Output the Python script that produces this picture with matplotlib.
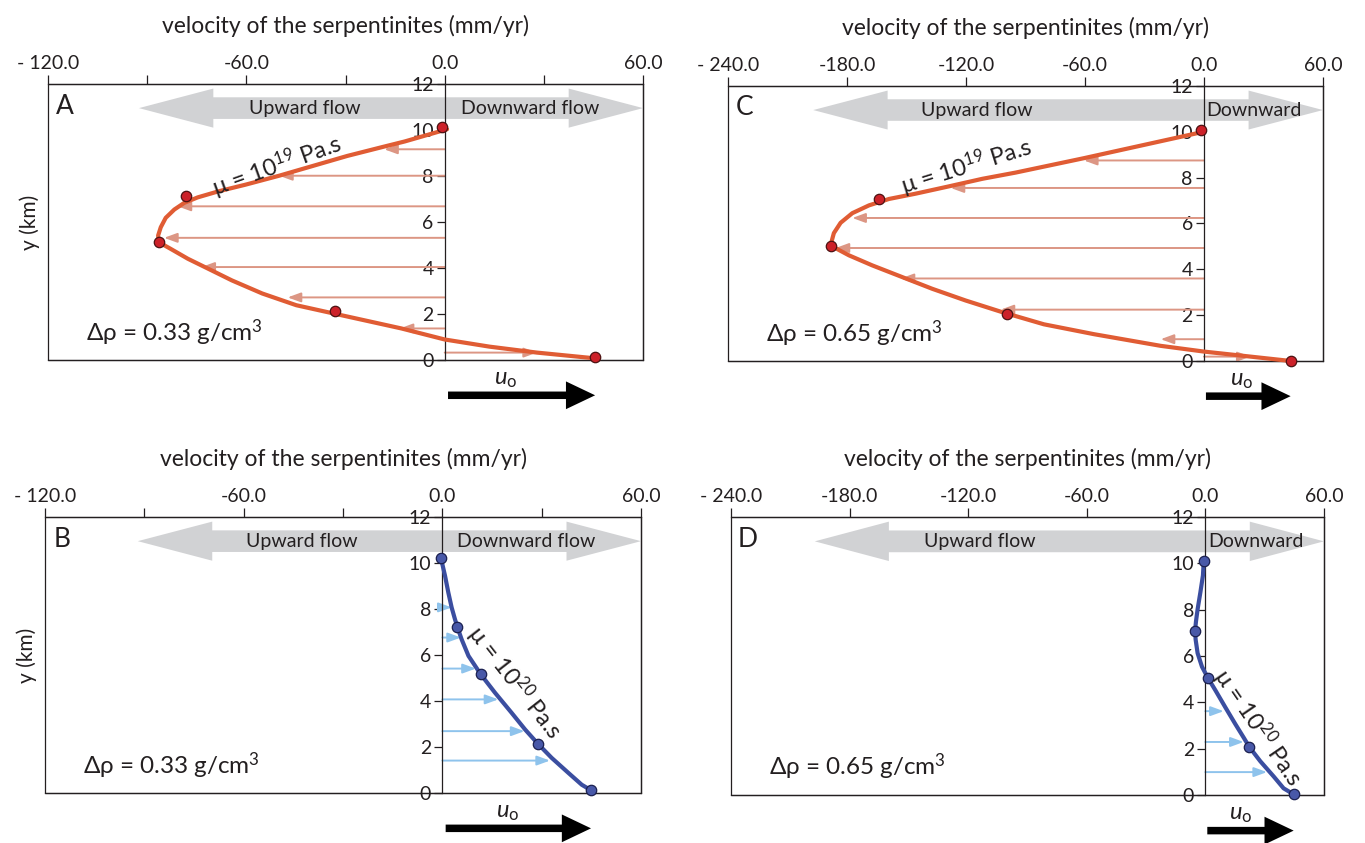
import matplotlib.pyplot as plt
from matplotlib.patches import Polygon, Rectangle

plt.rcParams['font.family'] = ['Lato', 'DejaVu Sans']
plt.rcParams['mathtext.fontset'] = 'custom'
plt.rcParams['mathtext.rm'] = 'Lato'
plt.rcParams['mathtext.it'] = 'Lato:italic'

INK = '#231f20'

# ---- panel A : drho = 0.33, mu = 1e19 ----
a_curve_y = [10.03, 9.5, 9.26, 8.87, 8.44, 8.01, 7.62, 7.33, 7.07, 6.83, 6.54, 6.18, 5.77, 5.41, 5.12,
             4.83, 4.40, 3.97, 3.46, 2.89, 2.38, 2.02, 1.37, 0.89, 0.58, 0.32, 0.07]
a_curve_x = [0.7, -12.1, -18.8, -29.5, -39.8, -50.1, -60.3, -68.5, -74.7, -78.8, -81.8, -84.4, -85.9, -86.7, -86.5,
             -82.9, -77.7, -71.6, -64.4, -55.2, -44.9, -33.6, -13.1, 0.0, 13.5, 27.9, 45.5]
a_dots_x = [-0.8, -78.3, -86.3, -33.1, 45.5]
a_dots_y = [10.13, 7.14, 5.12, 2.14, 0.13]
a_arrow_y = [9.16, 8.01, 6.68, 5.31, 4.04, 2.72, 1.37, 0.32]
a_arrow_x = [-18.3, -50.1, -80.8, -84.9, -73.6, -47.5, -13.6, 27.9]

# ---- panel B : drho = 0.33, mu = 1e20 ----
b_curve_y = [10.2, 9.45, 8.72, 8.07, 7.56, 7.19, 6.69, 5.96, 5.16, 4.36, 3.49, 2.76, 2.15, 1.53, 0.87, 0.36, 0.12]
b_curve_x = [-0.4, 0.8, 1.8, 2.8, 3.8, 4.6, 5.8, 7.9, 11.6, 15.9, 20.9, 25.0, 28.8, 33.0, 38.1, 42.1, 44.9]
b_dots_x = [-0.4, 4.5, 11.6, 28.8, 44.9]
b_dots_y = [10.2, 7.21, 5.16, 2.15, 0.12]
b_arrow_y = [8.07, 6.76, 5.41, 4.07, 2.69, 1.41]
b_arrow_x = [2.8, 5.6, 10.1, 16.9, 24.8, 32.5]

# ---- panel C : drho = 0.65, mu = 1e19 ----
c_curve_y = [9.99, 9.62, 8.85, 8.22, 7.95, 7.62, 7.30, 7.07, 6.79, 6.45, 6.03, 5.58, 5.04,
             4.61, 4.17, 3.66, 3.15, 2.64, 2.13, 1.60, 1.17, 0.66, 0.41, 0.19, 0.0]
c_curve_x = [-0.8, -20.2, -60.5, -95.0, -111.7, -128.6, -145.4, -158.8, -168.9, -177.3, -183.2, -186.6, -188.3,
             -179.0, -167.2, -152.1, -137.0, -120.2, -101.7, -80.7, -55.5, -21.8, 0.0, 23.5, 43.7]
c_dots_x = [-1.3, -163.9, -188.2, -99.1, 43.7]
c_dots_y = [10.06, 7.07, 5.03, 2.06, 0.0]
c_arrow_y = [8.75, 7.55, 6.24, 4.93, 3.60, 2.24, 0.95, 0.19]
c_arrow_x = [-60.5, -127.7, -177.3, -185.7, -152.9, -102.5, -21.8, 23.5]

# ---- panel D : drho = 0.65, mu = 1e20 ----
d_curve_y = [10.1, 9.48, 8.75, 8.02, 7.51, 7.10, 6.71, 6.12, 5.54, 5.07, 4.52, 3.79, 3.06, 2.48, 2.07, 1.46, 0.80, 0.29, 0.03]
d_curve_x = [-0.8, -1.2, -2.5, -3.9, -4.7, -5.2, -4.9, -3.9, -1.7, 1.2, 5.1, 10.1, 15.2, 19.4, 22.3, 27.8, 34.6, 39.6, 44.7]
d_dots_x = [-0.8, -5.2, 1.2, 22.3, 44.7]
d_dots_y = [10.1, 7.10, 5.07, 2.07, 0.03]
d_arrow_y = [3.62, 2.29, 0.99]
d_arrow_x = [9.3, 19.4, 31.2]

xticks_small = [-120, -90, -60, -30, 0, 30, 60]
xlabels_small = ['- 120.0', '', '-60.0', '', '0.0', '', '60.0']
xticks_big = [-240, -180, -120, -60, 0, 60]
xlabels_big = ['- 240.0', '-180.0', '-120.0', '-60.0', '0.0', '60.0']
yticks = [0, 2, 4, 6, 8, 10, 12]


def double_arrow(ax, left, right, head, yc):
    body, hw = 0.47, 0.85
    pts = [(left, yc), (left + head, yc + hw), (left + head, yc + body), (right - head, yc + body),
           (right - head, yc + hw), (right, yc), (right - head, yc - hw), (right - head, yc - body),
           (left + head, yc - body), (left + head, yc - hw)]
    ax.add_patch(Polygon(pts, closed=True, facecolor='#d1d2d4', edgecolor='none', zorder=1))


def panel(ax, letter, xlim, xt, xl, cx, cy, dx, dy, ax_, ay_, curve_c, dot_c, dot_e, arr_c,
          mu_txt, mu_xy, mu_rot, drho, arrow_left, up_x, down_x, down_txt, uo_x, ylab):
    ax.set_xlim(*xlim)
    ax.set_ylim(0, 12)
    ax.xaxis.tick_top()
    ax.set_xticks(xt)
    ax.set_xticklabels(xl)
    ax.tick_params(axis='x', direction='out', length=6.5, width=0.9, pad=2, labelsize=14,
                   colors=INK, top=True, bottom=False)
    ax.xaxis.set_label_position('top')
    ax.set_xlabel('velocity of the serpentinites (mm/yr)', fontsize=16.5, color=INK, labelpad=16)
    ax.spines['left'].set_position(('data', 0))
    for s in ax.spines.values():
        s.set_linewidth(0.9)
        s.set_color(INK)
    ax.set_yticks(yticks)
    ax.tick_params(axis='y', direction='out', length=6, width=0.9, pad=2, labelsize=14, colors=INK)
    ax.add_patch(Rectangle((0, 0), 1, 1, transform=ax.transAxes, fill=False,
                           edgecolor=INK, lw=0.9, zorder=0, clip_on=False))

    yc = 10.95
    double_arrow(ax, arrow_left, xlim[1], 0.125 * (xlim[1] - xlim[0]), yc)
    ax.text(up_x, yc, 'Upward flow', ha='center', va='center', fontsize=14, color=INK, zorder=2)
    ax.text(down_x, yc, down_txt, ha='center', va='center', fontsize=14, color=INK, zorder=2)

    for y, x in zip(ay_, ax_):
        ax.annotate('', xy=(x, y), xytext=(0, y),
                    arrowprops=dict(arrowstyle='-|>,head_length=0.6,head_width=0.22', color=arr_c,
                                    lw=1.4, shrinkA=0, shrinkB=0, mutation_scale=13), zorder=2)

    ax.plot(cx, cy, color=curve_c, lw=3.0, zorder=3, solid_capstyle='round',
            solid_joinstyle='round', clip_on=False)
    ax.plot(dx, dy, 'o', ms=7.5, mfc=dot_c, mec=dot_e, mew=0.9, zorder=4, clip_on=False)

    ax.text(mu_xy[0], mu_xy[1], mu_txt, rotation=mu_rot, rotation_mode='anchor',
            ha='center', va='center', fontsize=17, color=INK, zorder=5)
    ax.text(0.064, 0.10, drho, transform=ax.transAxes, ha='left', va='center', fontsize=17.5, color=INK)
    ax.text(0.028, 0.92, letter, transform=ax.transAxes, ha='center', va='center', fontsize=19, color=INK)

    tr = ax.get_xaxis_transform()
    ax.text(uo_x, -0.07, r'$u_\mathrm{o}$', transform=tr, ha='center', va='center', fontsize=17, color=INK)
    ax.annotate('', xy=(dx[-1], -0.128), xytext=(1, -0.128), xycoords=tr, textcoords=tr,
                arrowprops=dict(arrowstyle='simple,head_length=1.05,head_width=1.0,tail_width=0.27',
                                fc='black', ec='none', lw=0, shrinkA=0, shrinkB=0, mutation_scale=20),
                annotation_clip=False)
    if ylab:
        ax.text(-0.03, 0.5, 'y (km)', transform=ax.transAxes, rotation=90, ha='center', va='center',
                fontsize=15, color=INK)


fig = plt.figure(figsize=(13.65, 8.43), dpi=100)
axA = fig.add_axes([0.0352, 0.5730, 0.4359, 0.3274])
axB = fig.add_axes([0.0330, 0.0593, 0.4366, 0.3274])
axC = fig.add_axes([0.5333, 0.5718, 0.4359, 0.3262])
axD = fig.add_axes([0.5355, 0.0569, 0.4344, 0.3298])

orange, red, red_e, salmon = '#e05c34', '#cc2129', '#4d1212', '#dc9684'
blue, blue_dot, blue_e, sky = '#3b4ea0', '#4858a8', '#1b2050', '#8ec3ec'

panel(axA, 'A', (-120, 60), xticks_small, xlabels_small, a_curve_x, a_curve_y, a_dots_x, a_dots_y,
      a_arrow_x, a_arrow_y, orange, red, red_e, salmon, 'μ = 10$^{19}$ Pa.s', (-50.6, 8.45), 19.7,
      'Δρ = 0.33 g/cm$^3$', -92.5, -42.3, 25.8, 'Downward flow', 18.5, True)
panel(axB, 'B', (-120, 60), xticks_small, xlabels_small, b_curve_x, b_curve_y, b_dots_x, b_dots_y,
      b_arrow_x, b_arrow_y, blue, blue_dot, blue_e, sky, 'μ = 10$^{20}$ Pa.s', (22.0, 4.8), -52,
      'Δρ = 0.33 g/cm$^3$', -92, -42.3, 25.3, 'Downward flow', 19.7, True)
panel(axC, 'C', (-240, 60), xticks_big, xlabels_big, c_curve_x, c_curve_y, c_dots_x, c_dots_y,
      c_arrow_x, c_arrow_y, orange, red, red_e, salmon, 'μ = 10$^{19}$ Pa.s', (-119.8, 8.5), 17.2,
      'Δρ = 0.65 g/cm$^3$', -197, -114.3, 25.2, 'Downward', 18.8, False)
panel(axD, 'D', (-240, 60), xticks_big, xlabels_big, d_curve_x, d_curve_y, d_dots_x, d_dots_y,
      d_arrow_x, d_arrow_y, blue, blue_dot, blue_e, sky, 'μ = 10$^{20}$ Pa.s', (26.5, 2.9), -55.5,
      'Δρ = 0.65 g/cm$^3$', -197.6, -114.2, 25.4, 'Downward', 17.7, False)

fig.savefig('out.png', dpi=100)
